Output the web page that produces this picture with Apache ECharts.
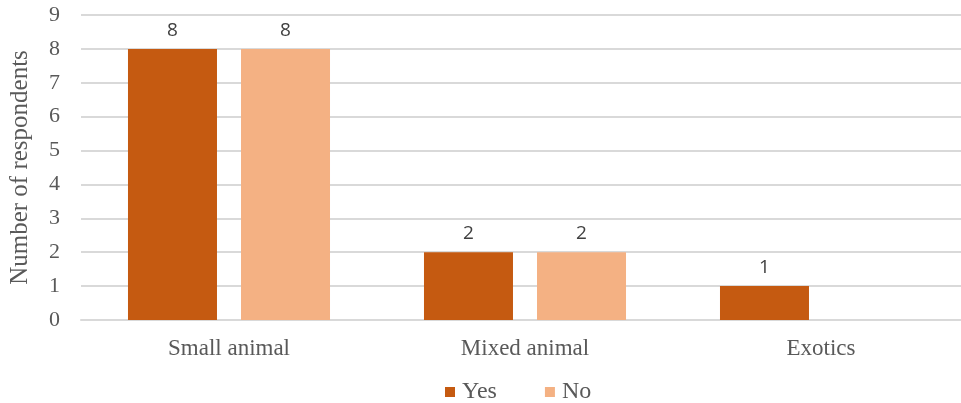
<!DOCTYPE html>
<html>
<head>
<meta charset="utf-8">
<script src="https://cdn.jsdelivr.net/npm/echarts@6/dist/echarts.min.js"></script>
<style>
  html, body { margin: 0; padding: 0; background: #fff; overflow: hidden; }
  #chart { width: 970px; height: 403px; }
</style>
</head>
<body>
<div id="chart"></div>
<script>
var categories = ['Small animal', 'Mixed animal', 'Exotics'];
var yesValues = [8, 2, 1];
var noValues = [8, 2, null];   // no bar drawn for Exotics / No
var yTicks = { min: 0, max: 9, interval: 1 };

var myChart = echarts.init(document.getElementById('chart'));
var serif = '"Liberation Serif", "DejaVu Serif", serif';

var option = {
    backgroundColor: '#fff',
    animation: false,
    grid: {
        left: 78,
        top: 15,
        right: 1,
        height: 305
    },
    legend: {
        data: ['Yes', 'No'],
        top: 375,
        left: 440,
        itemWidth: 10,
        itemHeight: 10,
        itemGap: 48,
        icon: 'rect',
        textStyle: { fontFamily: serif, fontSize: 24, color: '#595959', padding: [0, 0, 0, 2] }
    },
    xAxis: {
        type: 'category',
        data: categories,
        axisLine: { lineStyle: { color: '#d9d9d9', width: 2 } },
        axisTick: { show: false },
        axisLabel: { fontFamily: serif, fontSize: 23, color: '#595959', margin: 17 }
    },
    yAxis: {
        type: 'value',
        min: yTicks.min,
        max: yTicks.max,
        interval: yTicks.interval,
        name: 'Number of respondents',
        nameLocation: 'middle',
        nameGap: 48,
        nameTextStyle: { fontFamily: serif, fontSize: 25, color: '#595959' },
        axisLine: { show: false },
        axisTick: { show: false },
        axisLabel: { fontFamily: serif, fontSize: 22, color: '#595959', margin: 21 },
        splitLine: { lineStyle: { color: '#d9d9d9', width: 2 } }
    },
    series: [
        {
            name: 'Yes',
            type: 'bar',
            data: yesValues,
            barWidth: 89,
            barGap: '27%',
            itemStyle: { color: '#c55a11' },
            label: {
                show: true,
                position: 'top',
                distance: 9,
                fontFamily: '"Open Sans", "Noto Sans", sans-serif',
                fontSize: 19,
                color: '#404040'
            }
        },
        {
            name: 'No',
            type: 'bar',
            data: noValues,
            barWidth: 89,
            barGap: '27%',
            itemStyle: { color: '#f4b183' },
            label: {
                show: true,
                position: 'top',
                distance: 9,
                fontFamily: '"Open Sans", "Noto Sans", sans-serif',
                fontSize: 19,
                color: '#404040'
            }
        }
    ]
};

option && myChart.setOption(option);
</script>
</body>
</html>
